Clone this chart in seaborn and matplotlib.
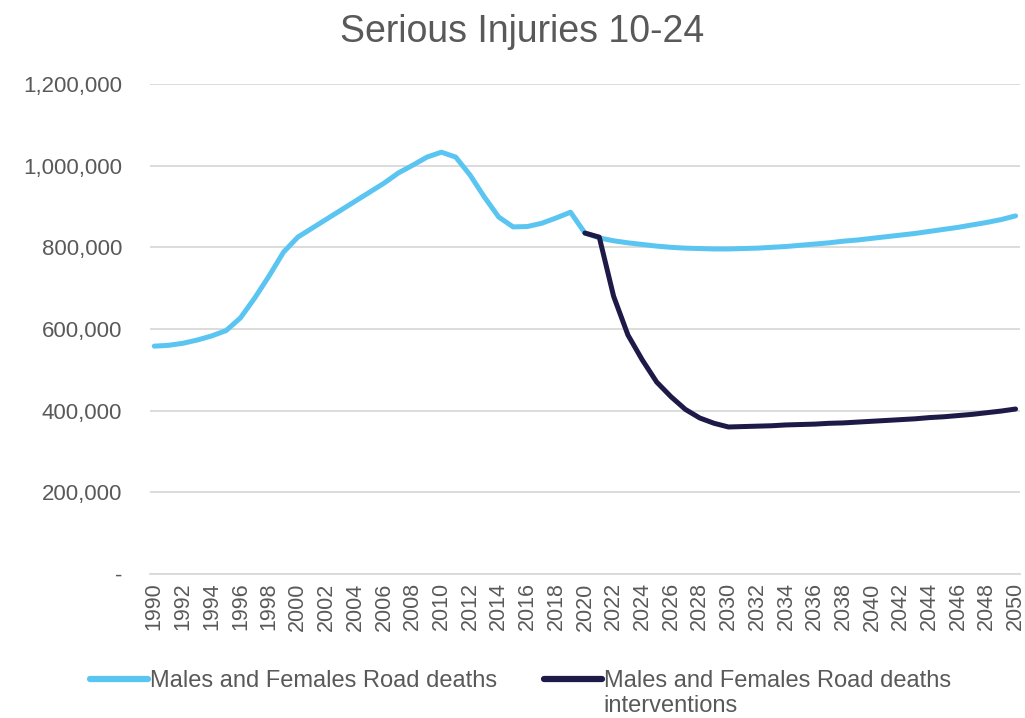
import numpy as np
import pandas as pd
import matplotlib
matplotlib.use("Agg")
import matplotlib.pyplot as plt
import seaborn as sns
from matplotlib.ticker import FuncFormatter

years = list(range(1990, 2051))

road_deaths = [
    558000, 560000, 565000, 573000, 583000, 596000, 627000, 676000, 730000, 788000,
    825000, 847000, 869000, 891000, 913000, 935000, 957000, 982000, 1001000, 1021000,
    1033000, 1021000, 977000, 923000, 874000, 850000, 851000, 859000, 872000, 886000,
    835000, 823000, 816000, 811000, 807000, 803000, 800000, 798000, 797000, 796000,
    796000, 797000, 798000, 800000, 802000, 805000, 808000, 811000, 815000, 818000,
    822000, 826000, 830000, 834000, 839000, 844000, 849000, 855000, 861000, 868000,
    877000,
]

interv_years = list(range(2020, 2051))
road_deaths_interventions = [
    835000, 825000, 680000, 585000, 524000, 470000, 434000, 403000, 382000, 369000,
    360000, 361000, 362000, 363000, 365000, 366000, 367000, 369000, 370000, 372000,
    374000, 376000, 378000, 380000, 383000, 385000, 388000, 391000, 395000, 399000,
    404000,
]

label_a = "Males and Females Road deaths"
label_b = "Males and Females Road deaths"
label_b_wrap = "interventions"

df = pd.concat([
    pd.DataFrame({"year": years, "value": road_deaths, "series": "a"}),
    pd.DataFrame({"year": interv_years, "value": road_deaths_interventions, "series": "b"}),
])

sns.set_theme(style="white")
plt.rcParams["font.family"] = ["Liberation Sans", "DejaVu Sans"]
grey = "#595959"

fig = plt.figure(figsize=(10.25, 7.18), dpi=100)
ax = fig.add_axes([0.1463, 0.2006, 0.8487, 0.6824])

sns.lineplot(
    data=df, x="year", y="value", hue="series",
    palette={"a": "#5BC5F2", "b": "#1E1A47"},
    linewidth=3.6, ax=ax,
)
for line in ax.get_lines():
    line.set_solid_capstyle("round")

ax.set_xlim(1989.7, 2050.3)
ax.set_ylim(0, 1200000)
ax.set_yticks(range(0, 1200001, 200000))
ax.yaxis.set_major_formatter(FuncFormatter(lambda v, p: "-" if v == 0 else f"{v:,.0f}"))
ax.set_xticks(range(1990, 2051, 2))
ax.tick_params(axis="x", labelrotation=90, labelsize=15.5, colors=grey, pad=6, length=0)
ax.tick_params(axis="y", labelsize=16, colors=grey, pad=20, length=0)
ax.grid(axis="y", color="#D9D9D9", linewidth=1.3)
ax.set_axisbelow(True)
for s in ["top", "right", "left"]:
    ax.spines[s].set_visible(False)
ax.spines["bottom"].set_color("#D9D9D9")
ax.spines["bottom"].set_linewidth(1.3)
ax.set_xlabel("")
ax.set_ylabel("")

fig.text(0.509, 1 - 32 / 718, "Serious Injuries 10-24", ha="center", va="center",
         fontsize=27, color=grey)

handles, _ = ax.get_legend_handles_labels()
ax.get_legend().remove()
leg = fig.legend(
    handles, [label_a, label_b], loc="upper left", bbox_to_anchor=(0.0878, 0.067),
    ncol=2, frameon=False, fontsize=17, handlelength=2.45, handletextpad=0.08,
    columnspacing=2.0, borderpad=0, borderaxespad=0,
)
for t in leg.get_texts():
    t.set_color(grey)
for h in leg.legend_handles:
    h.set_linewidth(4.5)
    h.set_solid_capstyle("round")

# second line of the wrapped legend label, placed under the legend text
fig.canvas.draw()
bb = leg.get_texts()[1].get_window_extent().transformed(fig.transFigure.inverted())
fig.text(bb.x0, bb.y0 - 0.005, label_b_wrap, ha="left", va="top",
         fontsize=17, color=grey)

fig.savefig("out.png", dpi=100)
